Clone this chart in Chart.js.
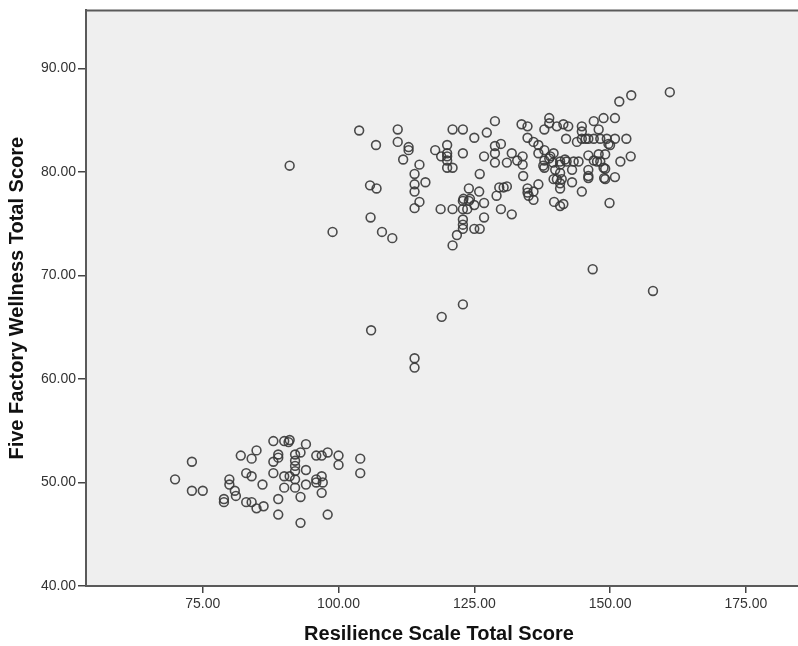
<!DOCTYPE html>
<html lang="en">
<head>
    <meta charset="UTF-8">
    <title>Resilience vs Wellness</title>
    <script src="https://cdn.jsdelivr.net/npm/chart.js"></script>
    <style>
        body {
            margin: 0;
            padding: 0;
            background: #fff;
            overflow: hidden;
        }
        #wrap {
            width: 798px;
            height: 646px;
        }
        canvas {
            display: block;
        }
    </style>
</head>
<body>
    <div id="wrap">
        <canvas id="scatterChart" width="798" height="646"></canvas>
    </div>

    <script>
        // Resilience Scale Total Score (x) and Five Factory Wellness Total Score (y)
        const resilience = [
            // outliers
            91.0, 98.9, 103.8, 106.9, 105.8, 107.0, 105.9, 108.0, 109.9, 106.0, 114.0, 114.0, 119.0, 122.9, 146.8, 157.9, 161.0,
            // upper cluster, left part
            110.9, 110.9, 112.9, 112.9, 111.9, 114.9, 114.0, 116.0, 114.0, 114.0, 114.9, 114.0,
            121.0, 122.9, 125.0, 127.3, 117.8, 120.0, 118.9, 120.0, 120.0, 121.0, 122.9, 126.8, 126.0, 124.0, 125.9,
            122.9, 124.0, 125.0, 126.8, 118.8, 121.0, 122.9, 123.7, 122.9, 122.9, 122.9, 125.0, 126.0, 126.8, 121.8, 121.0, 120.0, 120.0,
            // upper cluster, middle
            128.8, 133.7, 134.8, 138.8, 138.8, 137.9, 140.2, 134.8, 135.9, 136.8, 137.9, 128.8, 129.9, 128.8, 131.9,
            131.0, 128.8, 133.9, 133.9, 132.9, 136.8, 137.9, 137.9, 139.5, 134.0, 123.0, 124.2, 129.6, 131.0, 129.1,
            134.8, 134.8, 136.8, 135.9, 140.2, 138.8,
            129.9, 131.9, 139.7, 140.8, 144.8, 149.9, 140.8, 140.8, 143.0, 146.0, 146.0, 149.1, 150.9, 149.1, 151.9, 153.8,
            // upper cluster, right part
            151.7, 153.9, 141.4, 142.3, 144.8, 144.8, 147.0, 148.8, 150.9, 147.9, 141.9, 143.9, 144.8, 146.0, 147.0, 148.2,
            149.7, 150.9, 153.0, 139.6, 140.8, 142.0, 143.3, 144.2, 146.0, 147.9, 149.1, 148.2, 139.9, 141.1, 143.0, 148.8,
            150.0, 147.0,
            145.5, 149.4, 137.7, 139.0, 140.8, 141.7, 140.8, 139.6, 146.0, 147.6, 148.9, 135.0, 135.9, 130.4, 141.4,
            // lower cluster
            69.9, 73.0, 73.0, 75.0, 79.9, 79.9, 80.9, 81.1, 78.9, 78.9, 82.0, 84.0, 84.9, 83.0, 84.0, 83.0, 84.0, 84.9, 86.2, 86.0,
            88.0, 90.0, 91.0, 90.8, 94.0, 88.0, 88.9, 88.9, 88.0, 90.0, 91.0, 90.0, 88.9, 88.9, 92.0, 92.0, 92.0, 92.0, 93.0, 92.0,
            92.0, 94.0, 94.0, 93.0, 93.0, 95.9, 96.9, 98.0, 100.0, 100.0, 95.9, 95.9, 96.9, 97.1, 96.9, 98.0, 104.0, 104.0
        ];
        const wellness = [
            80.6, 74.2, 84.0, 82.6, 78.7, 78.4, 75.6, 74.2, 73.6, 64.7, 62.0, 61.1, 66.0, 67.2, 70.6, 68.5, 87.7,
            84.1, 82.9, 82.4, 82.1, 81.2, 80.7, 79.8, 79.0, 78.8, 78.1, 77.1, 76.5,
            84.1, 84.1, 83.3, 83.8, 82.1, 82.6, 81.5, 81.5, 80.4, 80.4, 81.8, 81.5, 79.8, 78.4, 78.1,
            77.2, 77.2, 76.8, 77.0, 76.4, 76.4, 76.4, 76.4, 75.4, 74.9, 74.5, 74.5, 74.5, 75.6, 73.9, 72.9, 81.8, 81.1,
            84.9, 84.6, 84.4, 85.2, 84.7, 84.1, 84.4, 83.3, 82.9, 82.6, 82.1, 82.5, 82.7, 81.8, 81.8,
            80.9, 80.9, 81.5, 80.7, 81.1, 81.8, 81.1, 80.4, 80.9, 79.6, 77.4, 77.4, 78.5, 78.6, 77.7,
            78.4, 78.0, 78.8, 77.3, 79.3, 81.3,
            76.4, 75.9, 77.1, 76.7, 78.1, 77.0, 79.9, 78.4, 79.0, 80.2, 79.4, 79.3, 79.5, 80.3, 81.0, 81.5,
            86.8, 87.4, 84.6, 84.4, 84.4, 83.9, 84.9, 85.2, 85.2, 84.1, 83.2, 82.9, 83.2, 83.2, 83.2, 83.2,
            82.7, 83.2, 83.2, 81.8, 81.0, 81.0, 81.0, 81.0, 81.6, 81.7, 81.7, 81.0, 80.2, 79.3, 80.2, 80.4,
            82.6, 81.1,
            83.2, 83.2, 80.6, 81.5, 80.7, 81.2, 78.9, 79.3, 79.6, 81.0, 79.4, 77.7, 78.1, 78.5, 76.9,
            50.3, 52.0, 49.2, 49.2, 50.3, 49.8, 49.2, 48.7, 48.4, 48.1, 52.6, 52.3, 53.1, 50.9, 50.6, 48.1, 48.1, 47.5, 47.7, 49.8,
            54.0, 54.0, 54.1, 53.9, 53.7, 52.0, 52.7, 52.4, 50.9, 50.6, 50.6, 49.5, 48.4, 46.9, 52.7, 52.1, 51.6, 51.1, 52.9, 50.3,
            49.5, 51.2, 49.8, 48.6, 46.1, 52.6, 52.6, 52.9, 52.6, 51.7, 50.3, 50.0, 50.6, 50.0, 49.0, 46.9, 52.3, 50.9
        ];

        const xTicks = [75, 100, 125, 150, 175];
        const yTicks = [40, 50, 60, 70, 80, 90];

        const points = resilience.map((x, i) => ({ x: x, y: wellness[i] }));

        // grey plot background, carried on to the right edge of the picture, plus the frame lines
        const plotFrame = {
            id: 'plotFrame',
            beforeDraw(chart) {
                const a = chart.chartArea;
                const ctx = chart.ctx;
                ctx.save();
                ctx.fillStyle = '#efefef';
                ctx.fillRect(a.left, a.top, chart.width - a.left, a.bottom - a.top);
                ctx.restore();
            },
            afterDraw(chart) {
                const a = chart.chartArea;
                const ctx = chart.ctx;
                ctx.save();
                ctx.strokeStyle = '#5a5a5a';
                ctx.lineWidth = 2;
                ctx.beginPath();
                ctx.moveTo(a.left, a.top);
                ctx.lineTo(chart.width, a.top);
                if (a.right < chart.width) {
                    ctx.moveTo(a.right - 2, a.bottom);
                    ctx.lineTo(chart.width, a.bottom);
                }
                ctx.stroke();
                ctx.restore();
            }
        };

        const fontFamily = '"Liberation Sans", Arial, sans-serif';

        new Chart(document.getElementById('scatterChart'), {
            type: 'scatter',
            data: {
                datasets: [{
                    label: 'Scores',
                    data: points,
                    pointStyle: 'circle',
                    pointRadius: 4.4,
                    pointBorderWidth: 1.6,
                    pointBorderColor: 'rgba(55,55,55,0.9)',
                    pointBackgroundColor: 'rgba(0,0,0,0)'
                }]
            },
            options: {
                responsive: false,
                animation: false,
                devicePixelRatio: 1,
                layout: { padding: { top: 7, left: 0, right: 0, bottom: 0 } },
                plugins: {
                    legend: { display: false },
                    tooltip: { enabled: false }
                },
                scales: {
                    x: {
                        type: 'linear',
                        min: 53.5,
                        max: 183.5,
                        afterFit(scale) { scale.height = 60; },
                        afterBuildTicks(scale) { scale.ticks = xTicks.map(v => ({ value: v })); },
                        border: { display: true, color: '#5a5a5a', width: 2 },
                        grid: { drawOnChartArea: false, drawTicks: true, tickLength: 7, color: '#444', lineWidth: 1.5 },
                        ticks: {
                            padding: 3,
                            color: '#333',
                            font: { family: fontFamily, size: 14 },
                            callback: v => v.toFixed(2)
                        },
                        title: {
                            display: true,
                            text: 'Resilience Scale Total Score',
                            color: '#111',
                            font: { family: fontFamily, size: 20, weight: 'bold' },
                            padding: { top: 0, bottom: 0 }
                        }
                    },
                    y: {
                        type: 'linear',
                        min: 40,
                        max: 95.6,
                        afterFit(scale) { scale.width = 86; },
                        afterBuildTicks(scale) { scale.ticks = yTicks.map(v => ({ value: v })); },
                        border: { display: true, color: '#5a5a5a', width: 2 },
                        grid: { drawOnChartArea: false, drawTicks: true, tickLength: 8, color: '#444', lineWidth: 1.5 },
                        ticks: {
                            padding: 2,
                            color: '#333',
                            font: { family: fontFamily, size: 14 },
                            callback: v => v.toFixed(2)
                        },
                        title: {
                            display: true,
                            text: 'Five Factory Wellness Total Score',
                            color: '#111',
                            font: { family: fontFamily, size: 20, weight: 'bold' },
                            padding: { top: 5, bottom: 0 }
                        }
                    }
                }
            },
            plugins: [plotFrame]
        });
    </script>
</body>
</html>
